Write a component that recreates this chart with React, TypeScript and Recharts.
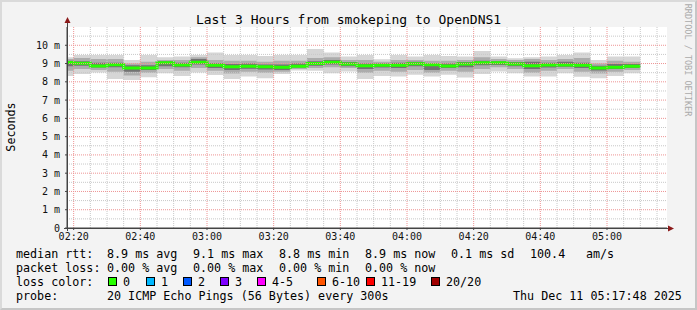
import React from 'react';
import { ComposedChart, Area, Line, XAxis, YAxis, CartesianGrid, ReferenceLine } from 'recharts';

// 5-minute probe steps; the first one is clipped by the 3h window
const times = [
  '02:15', '02:20', '02:25', '02:30', '02:35', '02:40', '02:45', '02:50', '02:55',
  '03:00', '03:05', '03:10', '03:15', '03:20', '03:25', '03:30', '03:35', '03:40', '03:45', '03:50', '03:55',
  '04:00', '04:05', '04:10', '04:15', '04:20', '04:25', '04:30', '04:35', '04:40', '04:45', '04:50', '04:55',
  '05:00', '05:05', '05:10',
];

// median rtt (ms) per step
const median = [
  9.06, 9.01, 8.87, 8.94, 8.76, 8.76, 9.05, 8.92, 9.07, 8.90, 8.83, 8.85, 8.83, 8.80, 8.85, 9.00, 9.07, 8.97,
  8.88, 8.91, 8.91, 8.99, 8.94, 8.87, 8.97, 9.04, 9.04, 8.98, 8.88, 8.92, 8.92, 8.90, 8.76, 8.80, 8.85,
];

// smoke: outer / middle / inner spread of the 20 pings (ms)
const outerLo = [
  8.32, 8.43, 8.51, 8.16, 8.10, 8.25, 8.47, 8.32, 8.51, 8.37, 8.16, 8.29, 8.19, 8.43, 8.62, 8.60, 8.47, 8.56,
  8.16, 8.32, 8.29, 8.39, 8.29, 8.39, 8.23, 8.43, 8.56, 8.47, 8.29, 8.29, 8.47, 8.28, 8.19, 8.32, 8.47,
];
const outerHi = [
  9.34, 9.47, 9.47, 9.47, 9.20, 9.47, 9.34, 9.38, 9.47, 9.60, 9.47, 9.47, 9.41, 9.47, 9.47, 9.80, 9.60, 9.38,
  9.47, 9.23, 9.47, 9.38, 9.47, 9.41, 9.38, 9.69, 9.38, 9.29, 9.34, 9.38, 9.47, 9.61, 9.20, 9.38, 9.38,
];
const midLo = [
  8.60, 8.70, 8.65, 8.55, 8.35, 8.50, 8.70, 8.60, 8.75, 8.60, 8.45, 8.55, 8.50, 8.55, 8.70, 8.75, 8.80, 8.75,
  8.50, 8.60, 8.55, 8.65, 8.50, 8.60, 8.55, 8.70, 8.80, 8.70, 8.50, 8.60, 8.70, 8.55, 8.45, 8.55, 8.65,
];
const midHi = [
  9.25, 9.30, 9.25, 9.25, 9.00, 9.10, 9.20, 9.20, 9.35, 9.20, 9.15, 9.15, 9.10, 9.15, 9.15, 9.30, 9.35, 9.20,
  9.20, 9.10, 9.20, 9.20, 9.15, 9.15, 9.20, 9.35, 9.25, 9.20, 9.25, 9.20, 9.25, 9.30, 9.00, 9.15, 9.10,
];
const innerLo = [
  8.85, 8.88, 8.78, 8.80, 8.55, 8.65, 8.85, 8.80, 8.95, 8.75, 8.65, 8.72, 8.68, 8.65, 8.78, 8.88, 8.95, 8.85,
  8.70, 8.78, 8.75, 8.85, 8.65, 8.75, 8.80, 8.90, 8.92, 8.85, 8.70, 8.78, 8.82, 8.75, 8.62, 8.70, 8.75,
];
const innerHi = [
  9.15, 9.12, 9.05, 9.05, 8.90, 8.90, 9.12, 9.05, 9.25, 9.02, 8.98, 9.00, 8.95, 8.95, 9.00, 9.12, 9.20, 9.08,
  9.00, 9.00, 9.05, 9.10, 8.98, 9.00, 9.08, 9.15, 9.12, 9.08, 9.10, 9.05, 9.10, 9.05, 8.88, 8.98, 8.98,
];

const xTicks = ['02:20', '02:40', '03:00', '03:20', '03:40', '04:00', '04:20', '04:40', '05:00'];
const yTicks = [0, 1, 2, 3, 4, 5, 6, 7, 8, 9, 10];

const lossColors = [
  { label: '0', color: '#26ff00', x: 108 },
  { label: '1', color: '#00b8ff', x: 146 },
  { label: '2', color: '#0059ff', x: 183 },
  { label: '3', color: '#7e00ff', x: 220 },
  { label: '4-5', color: '#ff00ff', x: 257 },
  { label: '6-10', color: '#ff5500', x: 317 },
  { label: '11-19', color: '#ff0000', x: 366 },
  { label: '20/20', color: '#a00000', x: 431 },
];

const toMin = (s: string) => {
  const [h, m] = s.split(':').map(Number);
  return h * 60 + m;
};
const fmt = (v: number) => {
  const h = Math.floor(v / 60);
  const m = v % 60;
  return `${String(h).padStart(2, '0')}:${String(m).padStart(2, '0')}`;
};

const START = toMin('02:18');
const END = START + 180;

const rows = times.map((t, i) => {
  const k = Math.min(i, median.length - 1);
  return {
    t: toMin(t),
    outer: [outerLo[k], outerHi[k]],
    mid: [midLo[k], midHi[k]],
    inner: [innerLo[k], innerHi[k]],
    median: median[k],
  };
});

const majorX = xTicks.map(toMin);
const minorX: number[] = [];
for (let v = toMin('02:20'); v < END; v += 5) if (!majorX.includes(v)) minorX.push(v);
const majorY = yTicks.filter(v => v > 0);
const minorY = yTicks.map(v => v + 0.5);

const mono = '"DejaVu Sans Mono", monospace';

const Txt: React.FC<{ x: number; y: number; children: React.ReactNode }> = ({ x, y, children }) => (
  <div style={{ position: 'absolute', left: x, top: y - 7, lineHeight: '14px', fontSize: 11.7, whiteSpace: 'pre', color: '#000' }}>
    {children}
  </div>
);

export default function App() {
  return (
    <div
      style={{
        position: 'absolute', left: 0, top: 0, width: 697, height: 310, boxSizing: 'border-box',
        background: '#f3f3f3', borderTop: '2px solid #dadada', borderLeft: '2px solid #dadada',
        borderRight: '2px solid #c6c6c6', borderBottom: '2px solid #c6c6c6', fontFamily: mono, overflow: 'hidden',
      }}
    >
      <div style={{ position: 'absolute', left: -2, top: -2 }}>
        <ComposedChart width={697} height={310} data={rows} margin={{ top: 27, right: 30, bottom: 62, left: 7 }}>
          <CartesianGrid horizontal={false} vertical={false} fill="#ffffff" />
          <XAxis
            dataKey="t" type="number" domain={[START, END]} allowDataOverflow ticks={majorX} tickFormatter={fmt}
            height={20} tickSize={2} tickMargin={3} stroke="#444"
            tick={{ fontSize: 10, fill: '#111', fontFamily: mono }}
          />
          <YAxis
            type="number" domain={[0, 11]} ticks={yTicks} allowDataOverflow width={60} tickSize={2} tickMargin={5}
            tickFormatter={(v: number) => (v === 0 ? '0' : `${v} m`)} stroke="#444"
            tick={{ fontSize: 10, fill: '#111', fontFamily: mono }}
          />
          <Area dataKey="outer" type="stepAfter" fill="#d6d6d6" fillOpacity={1} stroke="none" isAnimationActive={false} />
          <Area dataKey="mid" type="stepAfter" fill="#acacac" fillOpacity={1} stroke="none" isAnimationActive={false} />
          <Area dataKey="inner" type="stepAfter" fill="#727272" fillOpacity={1} stroke="none" isAnimationActive={false} />
          <Line dataKey="median" type="stepAfter" stroke="#26ff00" strokeWidth={3} dot={false} isAnimationActive={false} />
          {minorY.map(v => (
            <ReferenceLine key={`my${v}`} y={v} stroke="#c8c8c8" strokeDasharray="1 1" />
          ))}
          {minorX.map(v => (
            <ReferenceLine key={`mx${v}`} x={v} stroke="#c8c8c8" strokeDasharray="1 1" />
          ))}
          {majorY.map(v => (
            <ReferenceLine key={`My${v}`} y={v} stroke="#ee9494" strokeDasharray="1 1" />
          ))}
          {majorX.map(v => (
            <ReferenceLine key={`Mx${v}`} x={v} stroke="#ee9494" strokeDasharray="1 1" />
          ))}
        </ComposedChart>
        <svg width={697} height={310} style={{ position: 'absolute', left: 0, top: 0, pointerEvents: 'none' }}>
          <line x1={67.5} y1={231} x2={67.5} y2={22} stroke="#444" />
          <line x1={64} y1={228.5} x2={669} y2={228.5} stroke="#444" />
          <polygon points="64.5,23 70.5,23 67.5,17" fill="#8b1a1a" />
          <polygon points="668,225.5 668,231.5 674,228.5" fill="#8b1a1a" />
        </svg>
        <div style={{ position: 'absolute', left: 0, width: 697, top: 12, textAlign: 'center', fontSize: 13, lineHeight: '16px', color: '#000' }}>
          Last 3 Hours from smokeping to OpenDNS1
        </div>
        <div style={{ position: 'absolute', left: 11, top: 127, fontSize: 11.7, transform: 'translate(-50%, -50%) rotate(-90deg)', whiteSpace: 'nowrap' }}>
          Seconds
        </div>
        <div style={{ position: 'absolute', left: 688, top: 60, fontSize: 8.5, color: '#aaaaaa', transform: 'translate(-50%, -50%) rotate(90deg)', whiteSpace: 'nowrap' }}>
          RRDTOOL / TOBI OETIKER
        </div>

        <Txt x={16} y={254}>median rtt:</Txt>
        <Txt x={107} y={254}>8.9 ms avg</Txt>
        <Txt x={193} y={254}>9.1 ms max</Txt>
        <Txt x={279} y={254}>8.8 ms min</Txt>
        <Txt x={365} y={254}>8.9 ms now</Txt>
        <Txt x={451} y={254}>0.1 ms sd</Txt>
        <Txt x={530} y={254}>100.4</Txt>
        <Txt x={586} y={254}>am/s</Txt>

        <Txt x={16} y={268}>packet loss:</Txt>
        <Txt x={107} y={268}>0.00 % avg</Txt>
        <Txt x={193} y={268}>0.00 % max</Txt>
        <Txt x={279} y={268}>0.00 % min</Txt>
        <Txt x={365} y={268}>0.00 % now</Txt>

        <Txt x={16} y={282}>loss color:</Txt>
        {lossColors.map(l => (
          <React.Fragment key={l.label}>
            <div style={{ position: 'absolute', left: l.x, top: 277, width: 9, height: 9, boxSizing: 'border-box', border: '1px solid #000', background: l.color }} />
            <Txt x={l.x + 15} y={282}>{l.label}</Txt>
          </React.Fragment>
        ))}

        <Txt x={16} y={296}>probe:</Txt>
        <Txt x={107} y={296}>20 ICMP Echo Pings (56 Bytes) every 300s</Txt>
        <Txt x={513} y={296}>Thu Dec 11 05:17:48 2025</Txt>
      </div>
    </div>
  );
}
